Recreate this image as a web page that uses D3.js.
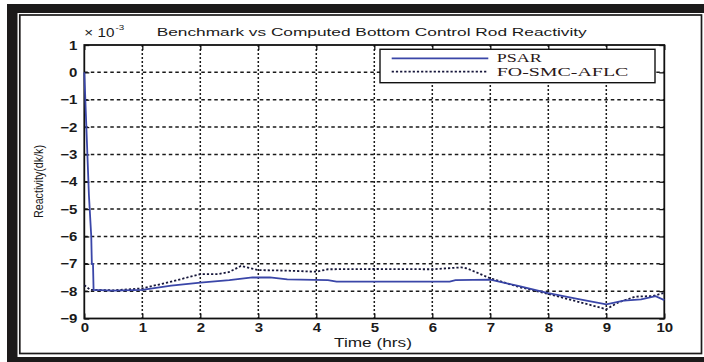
<!DOCTYPE html>
<html>
<head>
<meta charset="utf-8">
<script src="https://cdn.jsdelivr.net/npm/d3@7"></script>
<style>
  html, body { margin: 0; padding: 0; background: #fff; }
  svg { display: block; }
</style>
</head>
<body>
<svg id="chart" width="704" height="362"></svg>
<script>
// Reactivity (x 10^-3 dk/k) against time (hrs)
const psarTime  = [0, 0.08, 0.12, 0.13, 0.15, 0.16, 0.5, 1.0, 1.5, 2.0, 2.5, 2.9, 3.2, 3.5, 4.2, 4.35, 5.0, 6.0, 6.3, 6.4, 7.0, 7.5, 8.0, 8.5, 9.0, 9.3, 9.6, 9.85, 10];
const psarValue = [0.0, -4.5, -6.0, -7.0, -7.0, -7.95, -7.98, -7.95, -7.8, -7.69, -7.6, -7.5, -7.5, -7.57, -7.6, -7.65, -7.65, -7.65, -7.65, -7.6, -7.58, -7.82, -8.07, -8.28, -8.48, -8.35, -8.3, -8.18, -8.33];

const foTime  = [0, 0.1, 0.5, 1.0, 1.5, 2.0, 2.3, 2.5, 2.7, 3.0, 3.5, 4.0, 4.2, 5.0, 6.0, 6.5, 6.6, 7.0, 7.5, 8.0, 8.5, 9.0, 9.2, 9.5, 9.8, 10];
const foValue = [-7.78, -7.95, -7.97, -7.9, -7.65, -7.38, -7.38, -7.3, -7.08, -7.23, -7.25, -7.29, -7.2, -7.19, -7.2, -7.13, -7.17, -7.53, -7.85, -8.1, -8.38, -8.66, -8.42, -8.2, -8.18, -8.06];

const xTicks = [0, 1, 2, 3, 4, 5, 6, 7, 8, 9, 10];
const yTicks = [1, 0, -1, -2, -3, -4, -5, -6, -7, -8, -9];

const seriesNames = ["PSAR", "FO-SMC-AFLC"];

const SANS = "'Liberation Sans', Arial, sans-serif";
const SERIF = "'Liberation Serif', 'Times New Roman', serif";

const svg = d3.select("#chart");
const W = 704, H = 362;
const plot = { left: 84.3, right: 664.3, top: 45, bottom: 318.5 };

const x = d3.scaleLinear().domain([0, 10]).range([plot.left, plot.right]);
const y = d3.scaleLinear().domain([-9, 1]).range([plot.bottom, plot.top]);

// widen text horizontally by factor k
function stretch(sel, k) {
  sel.each(function () {
    const L = this.getComputedTextLength();
    this.setAttribute("textLength", L * k);
    this.setAttribute("lengthAdjust", "spacingAndGlyphs");
  });
}
function fitTo(sel, len) {
  sel.attr("textLength", len).attr("lengthAdjust", "spacingAndGlyphs");
}

// page frame
svg.append("rect").attr("width", W).attr("height", H).attr("fill", "#fff");
const frameCol = "#1c1a1a";
svg.append("rect").attr("x", 7).attr("y", 4).attr("width", W - 7).attr("height", 9).attr("fill", frameCol);
svg.append("rect").attr("x", 7).attr("y", 4).attr("width", 10.5).attr("height", H - 4).attr("fill", frameCol);
svg.append("rect").attr("x", 7).attr("y", 357).attr("width", W - 7).attr("height", 5).attr("fill", frameCol);
svg.append("rect").attr("x", 19.8).attr("y", 15).attr("width", 681.7).attr("height", 338.5)
  .attr("fill", "none").attr("stroke", frameCol).attr("stroke-width", 1.7);

// grid
const grid = svg.append("g");
grid.selectAll("line.gx").data(xTicks.filter(d => d > 0 && d < 10)).join("line")
  .attr("x1", d => x(d)).attr("x2", d => x(d))
  .attr("y1", plot.top).attr("y2", plot.bottom)
  .attr("stroke", "#1a1a1a").attr("stroke-width", 1.5).attr("stroke-dasharray", "2,2");
grid.selectAll("line.gy").data(yTicks.filter(d => d > -9 && d < 1)).join("line")
  .attr("x1", plot.left).attr("x2", plot.right)
  .attr("y1", d => y(d)).attr("y2", d => y(d))
  .attr("stroke", "#1a1a1a").attr("stroke-width", 1.5).attr("stroke-dasharray", "3.5,3");

// axes (ticks inward on all four sides)
const tickLen = 5;
const axBottom = svg.append("g").attr("transform", `translate(0,${plot.bottom})`)
  .call(d3.axisBottom(x).tickValues(xTicks).tickSize(-tickLen).tickPadding(4.5).tickFormat(d3.format("d")));
const axTop = svg.append("g").attr("transform", `translate(0,${plot.top})`)
  .call(d3.axisTop(x).tickValues(xTicks).tickSize(-tickLen).tickFormat(""));
const axLeft = svg.append("g").attr("transform", `translate(${plot.left},0)`)
  .call(d3.axisLeft(y).tickValues(yTicks).tickSize(-tickLen).tickPadding(7).tickFormat(d3.format("d")));
const axRight = svg.append("g").attr("transform", `translate(${plot.right},0)`)
  .call(d3.axisRight(y).tickValues(yTicks).tickSize(-tickLen).tickFormat(""));

[axBottom, axTop, axLeft, axRight].forEach(g => {
  g.select(".domain").remove();
  g.selectAll(".tick line").attr("stroke", "#111").attr("stroke-width", 1.3);
});
svg.append("rect").attr("x", plot.left).attr("y", plot.top)
  .attr("width", plot.right - plot.left).attr("height", plot.bottom - plot.top)
  .attr("fill", "none").attr("stroke", "#111").attr("stroke-width", 1.8);

[axBottom, axLeft].forEach(g => {
  g.selectAll(".tick text")
    .style("font-family", SANS).style("font-size", "12.5px").style("font-weight", "bold")
    .attr("fill", "#1a1a1a");
  stretch(g.selectAll(".tick text"), 1.2);
});

// data lines
const line = d3.line().x(d => x(d[0])).y(d => y(d[1]));
const psar = psarTime.map((t, i) => [t, psarValue[i]]);
const fo = foTime.map((t, i) => [t, foValue[i]]);

svg.append("path").datum(fo).attr("d", line)
  .attr("fill", "none").attr("stroke", "#16163a").attr("stroke-width", 1.8)
  .attr("stroke-dasharray", "2.2,2");
svg.append("path").datum(psar).attr("d", line)
  .attr("fill", "none").attr("stroke", "#3a46a8").attr("stroke-width", 1.8);

// title and labels
const title = svg.append("text").attr("x", 371.7).attr("y", 36).attr("text-anchor", "middle")
  .style("font-family", SANS).style("font-size", "11.5px").attr("fill", "#1a1a1a")
  .text("Benchmark vs Computed Bottom Control Rod Reactivity");
fitTo(title, 430);

const xl = svg.append("text").attr("x", 373).attr("y", 347).attr("text-anchor", "middle")
  .style("font-family", SANS).style("font-size", "12px").attr("fill", "#1a1a1a").text("Time (hrs)");
fitTo(xl, 78);

const yl = svg.append("text").attr("transform", "translate(42.5,181.5) rotate(-90)")
  .attr("text-anchor", "middle").style("font-family", SANS).style("font-size", "12px")
  .attr("fill", "#1a1a1a").text("Reactivity(dk/k)");
fitTo(yl, 73);

// exponent marker
const ex = svg.append("text").attr("x", 84.3).attr("y", 36.7)
  .style("font-family", SANS).style("font-size", "12.5px").attr("fill", "#1a1a1a");
ex.append("tspan").text("× 10");
ex.append("tspan").attr("dx", 1).attr("dy", -7).style("font-size", "8px").text("-3");
fitTo(ex, 40);

// legend
const lg = svg.append("g");
lg.append("rect").attr("x", 380).attr("y", 49.3).attr("width", 275).attr("height", 33.4)
  .attr("fill", "#fff").attr("stroke", "#111").attr("stroke-width", 1.4);
const lgY = [58.3, 71.7];
lg.append("line").attr("x1", 391.7).attr("x2", 488.3).attr("y1", lgY[0]).attr("y2", lgY[0])
  .attr("stroke", "#3a46a8").attr("stroke-width", 1.8);
lg.append("line").attr("x1", 391.7).attr("x2", 488.3).attr("y1", lgY[1]).attr("y2", lgY[1])
  .attr("stroke", "#16163a").attr("stroke-width", 1.8).attr("stroke-dasharray", "2.2,2");
const lgLen = [45, 131.7];
seriesNames.forEach((name, i) => {
  const t = lg.append("text").attr("x", 496.7).attr("y", lgY[i] + 4)
    .style("font-family", SERIF).style("font-size", "11.5px")
    .attr("fill", "#2a1818").text(name);
  fitTo(t, lgLen[i]);
});
</script>
</body>
</html>
